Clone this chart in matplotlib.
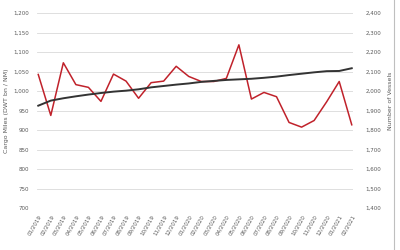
import numpy as np
import matplotlib
matplotlib.use("Agg")
import matplotlib.pyplot as plt

months = ["01/2019", "02/2019", "03/2019", "04/2019", "05/2019", "06/2019",
          "07/2019", "08/2019", "09/2019", "10/2019", "11/2019", "12/2019",
          "01/2020", "02/2020", "03/2020", "04/2020", "05/2020", "06/2020",
          "07/2020", "08/2020", "09/2020", "10/2020", "11/2020", "12/2020",
          "01/2021", "02/2021"]

cargo_miles = [1043, 938, 1073, 1017, 1010, 974, 1044, 1026, 982, 1022,
               1026, 1064, 1038, 1025, 1025, 1033, 1119, 980, 997, 986,
               920, 908, 925, 973, 1025, 914]

vessels = [1926, 1952, 1964, 1974, 1983, 1991, 1998, 2003, 2010, 2020,
           2027, 2034, 2040, 2048, 2053, 2058, 2061, 2064, 2069, 2075,
           2083, 2090, 2097, 2103, 2104, 2118]

txt = '#595959'
fs = 4

fig = plt.figure(figsize=(4, 2.5), dpi=100)
ax1 = fig.add_axes([0.0925, 0.167, 0.79, 0.78])
ax2 = ax1.twinx()

x = np.arange(len(months))
ax1.plot(x, cargo_miles, color='#C0222B', lw=1.1, zorder=3)
ax2.plot(x, vessels, color='#333333', lw=1.4, zorder=3)

ax1.set_ylim(700, 1200)
ax1.set_yticks(np.arange(700, 1201, 50))
ax1.set_yticklabels([f"{v:,}" for v in range(700, 1201, 50)])
ax2.set_ylim(1400, 2400)
ax2.set_yticks(np.arange(1400, 2401, 100))
ax2.set_yticklabels([f"{v:,}" for v in range(1400, 2401, 100)])
ax1.set_xlim(-0.1, 25.1)
ax1.set_xticks(x)
ax1.set_xticklabels(months, rotation=60, ha='right', rotation_mode='anchor')

ax1.grid(axis='y', color='#D9D9D9', lw=0.6)
ax1.set_axisbelow(True)
for a in (ax1, ax2):
    for s in a.spines.values():
        s.set_visible(False)
    a.tick_params(length=0, labelsize=fs, colors=txt)
ax1.tick_params(axis='y', pad=6)
ax1.tick_params(axis='x', pad=4)
ax2.tick_params(axis='y', pad=9)

ax1.set_ylabel('Cargo Miles (DWT bn / NM)', fontsize=4.5, color=txt)
ax2.set_ylabel('Number of Vessels', fontsize=4.5, color=txt)
ax1.yaxis.set_label_coords(-0.088, 0.5)
ax2.yaxis.set_label_coords(1.11, 0.55)

fig.add_artist(plt.Line2D([0.985, 0.985], [0, 1], color='#BFBFBF', lw=0.8))

fig.savefig('out.png', dpi=100)
